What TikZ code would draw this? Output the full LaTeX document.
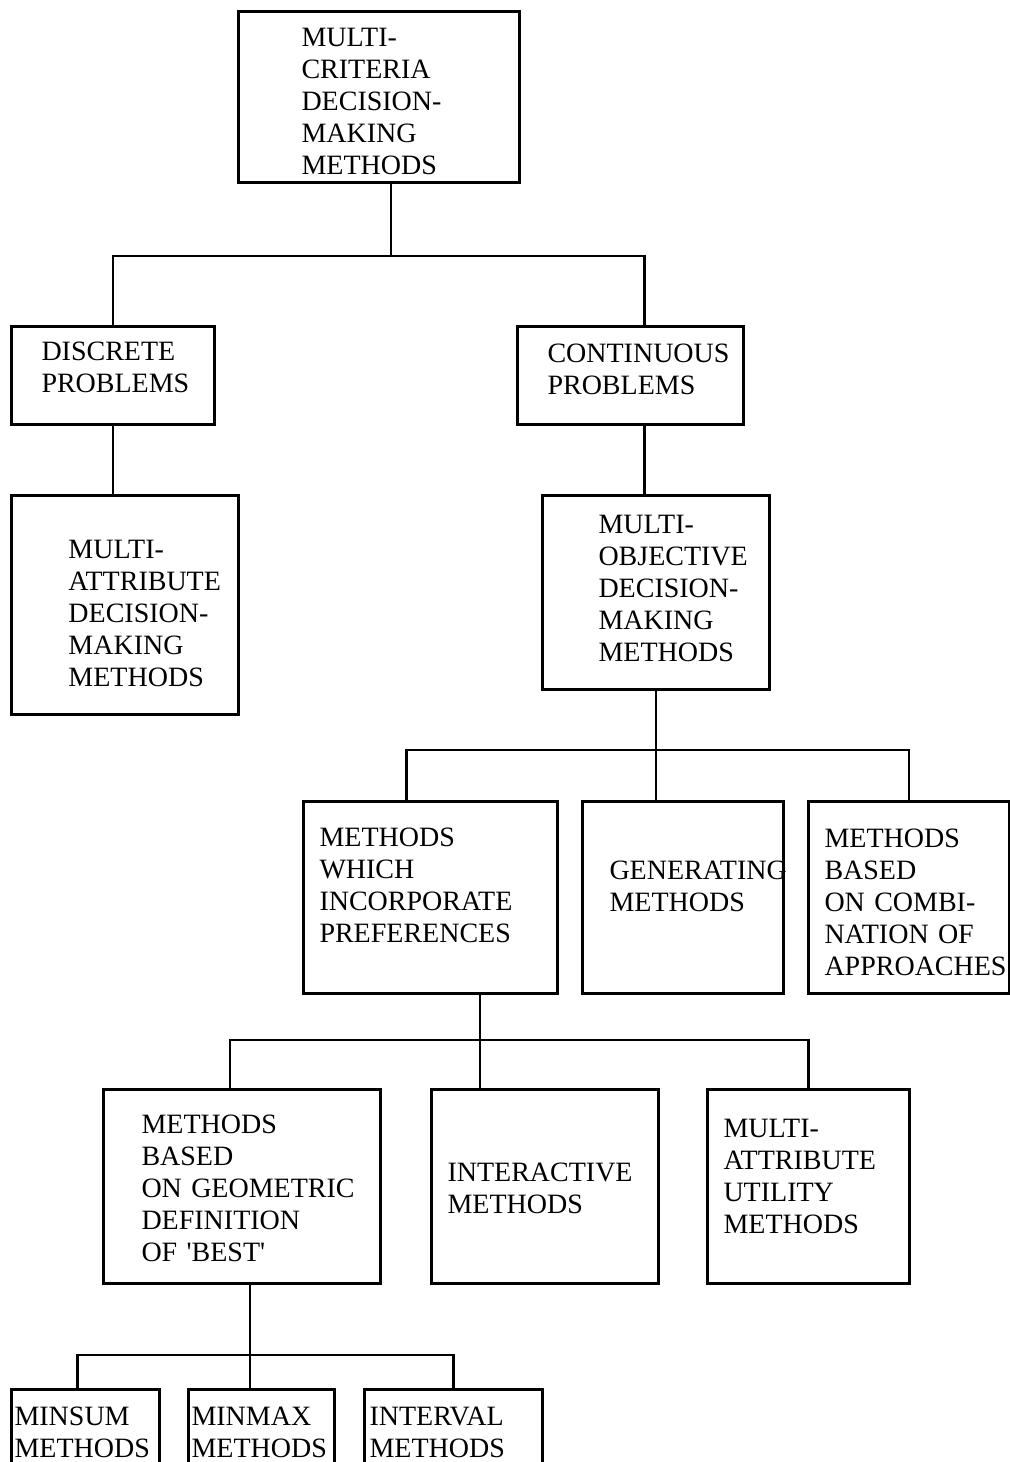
\documentclass[tikz,border=0pt]{standalone}
\usepackage{fontspec}
\setmainfont{Liberation Serif}
\usepackage{tikz}
\usetikzlibrary{positioning, calc}
\newcommand{\chartfont}{\fontsize{14}{16}\selectfont
  \hyphenpenalty=10000 \exhyphenpenalty=10000}

\begin{document}
\begin{tikzpicture}[
  x=0.5pt, y=-0.5pt,
  box/.style n args={4}{draw, line width=1.5pt, anchor=north west,
    align=left, font=\chartfont, inner ysep=0pt,
    inner xsep=#2*0.5pt, text width={(#1-2*#2)*0.5pt},
    text height=#3*0.5pt, text depth=#4*0.5pt},
  link/.style={line width=1.2pt}
]
  \useasboundingbox (0,0) rectangle (1009,1462);

  \node[box={281}{63}{35}{136}] (mcdm) at (237,10)
    {MULTI-\\CRITERIA\\DECISION-\\MAKING\\METHODS};
  \node[box={203}{30}{34}{64}] (disc) at (10,325) {DISCRETE\\PROBLEMS};
  \node[box={226}{30}{36}{62}] (cont) at (516,325) {CONTINUOUS\\PROBLEMS};
  \node[box={227}{57}{63}{156}] (madm) at (10,494)
    {MULTI-\\ATTRIBUTE\\DECISION-\\MAKING\\METHODS};
  \node[box={227}{56}{38}{156}] (modm) at (541,494)
    {MULTI-\\OBJECTIVE\\DECISION-\\MAKING\\METHODS};
  \node[box={254}{16}{45}{147}] (pref) at (302,800)
    {METHODS\\WHICH\\INCORPORATE\\PREFERENCES};
  \node[box={201}{27}{78}{114}] (gen) at (581,800) {GENERATING\\METHODS};
  \node[box={201}{16}{46}{146}] (comb) at (807,800)
    {METHODS\\BASED\\ON~COMBI-\\NATION~OF\\APPROACHES};
  \node[box={277}{38}{44}{150}] (geom) at (102,1088)
    {METHODS\\BASED\\ON~GEOMETRIC\\DEFINITION\\OF~\textquotesingle BEST\textquotesingle};
  \node[box={227}{16}{92}{102}] (inter) at (430,1088) {INTERACTIVE\\METHODS};
  \node[box={202}{16}{48}{146}] (mau) at (706,1088)
    {MULTI-\\ATTRIBUTE\\UTILITY\\METHODS};
  \node[box={148}{3}{36}{46}] (minsum) at (10,1388) {MINSUM\\METHODS};
  \node[box={146}{3}{36}{46}] (minmax) at (187,1388) {MINMAX\\METHODS};
  \node[box={178}{5}{36}{46}] (interval) at (363,1388) {INTERVAL\\METHODS};

  \coordinate (b1) at (391,256);
  \coordinate (b2) at (656,750);
  \coordinate (b3) at (480,1040);
  \coordinate (b4) at (250,1355);

  \draw[link] (b1 |- mcdm.south) -- (b1);
  \draw[link] (disc.north) |- (b1) -| ([xshift=7pt]cont.north);
  \draw[link] (disc.south) -- (disc.south |- madm.north);
  \draw[link] ([xshift=7pt]cont.south) -- ([xshift=7pt]cont.south |- modm.north);

  \draw[link] (b2 |- modm.south) -- (b2) -- (b2 |- gen.north);
  \draw[link] ([xshift=-12pt]pref.north) |- (b2) -| (comb.north);

  \draw[link] (b3 |- pref.south) -- (b3) -- (b3 |- inter.north);
  \draw[link] ([xshift=-6pt]geom.north) |- (b3) -| (mau.north);

  \draw[link] (b4 |- geom.south) -- (b4) -- (b4 |- minmax.north);
  \draw[link] ([xshift=-4pt]minsum.north) |- (b4) -| (interval.north);
\end{tikzpicture}
\end{document}
